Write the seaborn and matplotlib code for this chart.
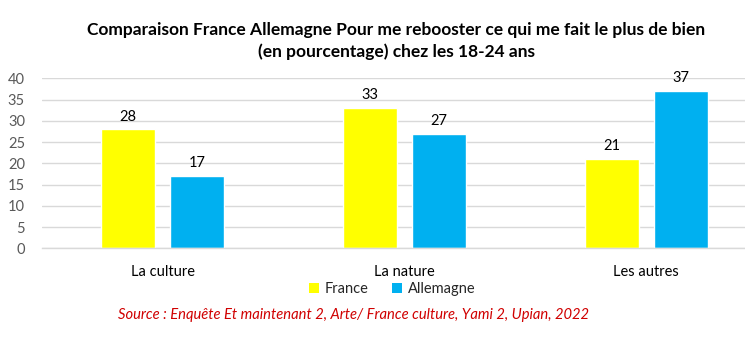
import matplotlib
matplotlib.use("Agg")
import matplotlib.pyplot as plt
import seaborn as sns
import pandas as pd
from matplotlib.patches import Patch

categories = ["La culture", "La nature", "Les autres"]
france = [28, 33, 21]
allemagne = [17, 27, 37]
series_names = ["France", "Allemagne"]
y_ticks = [0, 5, 10, 15, 20, 25, 30, 35, 40]

title = ("Comparaison France Allemagne Pour me rebooster ce qui me fait le plus de bien\n"
         "(en pourcentage) chez les 18-24 ans")
source = "Source : Enquête Et maintenant 2, Arte/ France culture, Yami 2, Upian, 2022"

colors = {"France": "#FFFF00", "Allemagne": "#00B0F0"}

df = pd.DataFrame({
    "categorie": categories * 2,
    "pays": [series_names[0]] * 3 + [series_names[1]] * 3,
    "valeur": france + allemagne,
})

sns.set_theme(style="white")
plt.rcParams["font.family"] = ["Lato", "DejaVu Sans"]

fig = plt.figure(figsize=(7.45, 3.45), dpi=100)
ax = fig.add_axes([41.7 / 745, 1 - 248.3 / 345, (745 - 41.7) / 745, 170 / 345])

sns.barplot(data=df, x="categorie", y="valeur", hue="pays", order=categories,
            hue_order=series_names, palette=colors, width=0.57, gap=0.217,
            saturation=1, legend=False, ax=ax)

for cont in ax.containers:
    ax.bar_label(cont, fmt="%d", padding=4, fontsize=10.5, color="#000000")

ax.set_ylim(0, 40)
ax.set_yticks(y_ticks)
ax.set_xlim(-0.5, 2.5 - (767 - 745) / 241.8)
ax.yaxis.grid(True, color="#D9D9D9", linewidth=1)
ax.set_axisbelow(True)
for s in ["left", "right", "top"]:
    ax.spines[s].set_visible(False)
ax.spines["bottom"].set_color("#D9D9D9")
ax.spines["bottom"].set_linewidth(1)
ax.set_xlabel("")
ax.set_ylabel("")
ax.tick_params(axis="y", length=0, pad=12, labelsize=10.5, labelcolor="#595959")
ax.tick_params(axis="x", length=0, pad=12, labelsize=10.5, labelcolor="#000000")

fig.text(0.532, 0.881, title, ha="center", va="center", fontsize=12.5,
         fontweight="bold", linespacing=1.4, color="#000000")

handles = [Patch(facecolor=colors[n], edgecolor="none", label=n) for n in series_names]
fig.legend(handles=handles, loc="center", bbox_to_anchor=(392 / 745, 1 - 289 / 345),
           ncol=2, frameon=False, fontsize=10.5, handlelength=0.7, handleheight=0.7,
           handletextpad=0.4, columnspacing=1.6)

fig.text(354 / 745, 1 - 315 / 345, source, ha="center", va="center", fontsize=10.6,
         style="italic", color="#D00000")

fig.savefig("out.png", dpi=100)
